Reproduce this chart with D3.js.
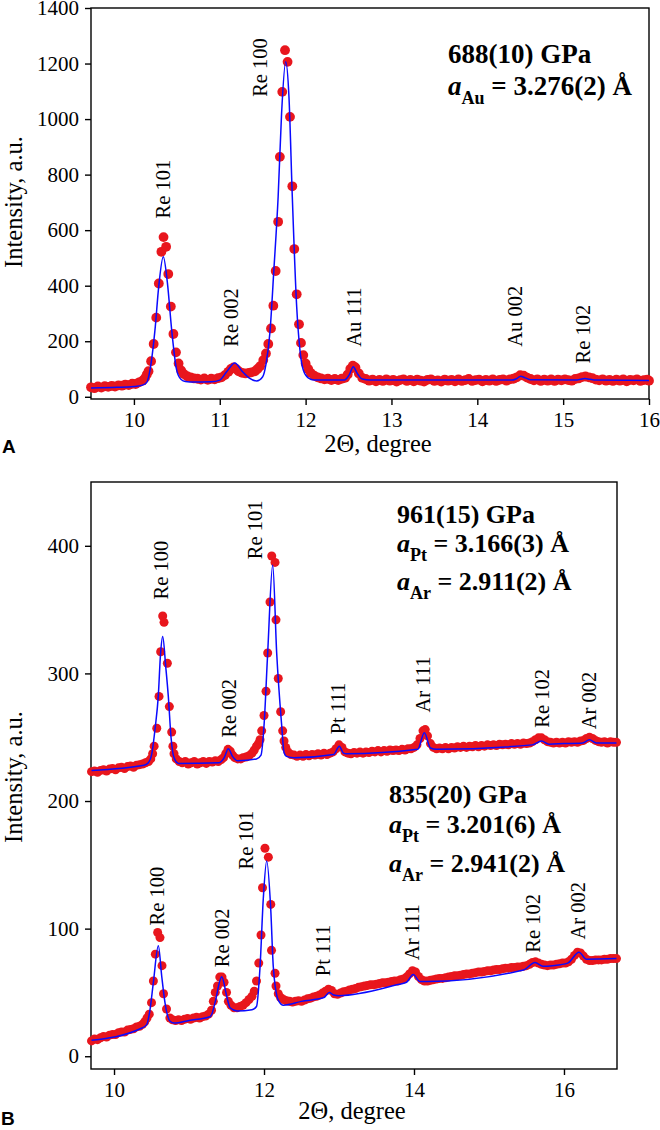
<!DOCTYPE html>
<html><head><meta charset="utf-8">
<script src="https://cdn.jsdelivr.net/npm/d3@7"></script>
<style>body{margin:0;background:#fff}</style>
</head><body>
<svg id="c" width="660" height="1130"></svg>
<script>
// ---------- Panel A : 688(10) GPa ----------
const obsA = [[9.50,34],[9.54,31],[9.58,37],[9.62,33],[9.66,38],[9.70,36],[9.74,39],[9.78,37],[9.82,41],[9.86,40],[9.90,44],[9.94,42],[9.98,47],[10.02,46],[10.06,52],[10.10,58],[10.13,68],[10.15,80],
[10.17,92],[10.20,128],[10.23,190],[10.26,285],[10.29,408],[10.32,522],[10.345,575],[10.375,540],[10.40,442],[10.43,325],[10.46,226],[10.49,160],[10.52,120],[10.55,95],[10.58,82],[10.62,74],[10.66,70],[10.70,66],[10.74,65],[10.78,62],[10.82,66],[10.86,61],[10.90,65],[10.94,63],[10.98,67],[11.02,70],[11.06,78],[11.10,90],[11.13,100],[11.16,106],[11.19,100],[11.22,92],[11.26,86],[11.30,84],[11.34,86],[11.37,88],[11.41,92],[11.44,100],[11.47,110],[11.507,132],[11.538,156],[11.565,190],[11.597,246],[11.624,328],[11.651,453],[11.68,630],[11.70,864],[11.728,1098],[11.76,1248],[11.79,1206],[11.818,1008],[11.845,758],[11.868,532],[11.896,369],[11.923,261],[11.946,194],[11.973,150],[12.00,120],[12.03,100],[12.06,86],[12.10,76],[12.14,70],[12.18,66],[12.22,63],[12.26,65],[12.30,60],[12.34,64],[12.38,60],[12.42,65],[12.46,68],[12.49,80],[12.52,100],[12.55,112],[12.58,106],[12.62,84],[12.66,68],
[12.70,64],[12.74,58],[12.78,62],[12.82,56],[12.86,61],[12.90,57],[12.94,63],[12.98,58],[13.02,61],[13.06,55],[13.10,60],[13.14,63],[13.18,57],[13.22,61],[13.26,56],[13.30,62],[13.34,58],[13.38,55],[13.42,61],[13.46,63],[13.50,57],[13.54,59],[13.58,55],[13.62,62],[13.66,58],[13.70,61],[13.74,56],[13.78,63],[13.82,57],[13.86,60],[13.90,64],[13.94,57],[13.98,60],[14.02,62],[14.06,56],[14.10,61],[14.14,58],[14.18,63],[14.22,57],[14.26,61],[14.30,63],[14.34,58],[14.38,63],[14.42,65],[14.46,70],[14.50,78],[14.54,76],[14.58,69],[14.62,64],[14.66,59],[14.70,63],[14.74,57],[14.78,62],[14.82,58],[14.86,63],[14.90,57],[14.94,62],[14.98,59],[15.02,63],[15.06,60],[15.10,58],[15.14,64],[15.18,66],[15.22,71],[15.26,73],[15.30,70],[15.34,67],[15.38,62],[15.42,59],[15.46,63],[15.50,58],[15.54,61],[15.58,57],[15.62,62],[15.66,58],[15.70,63],[15.74,56],[15.78,61],[15.82,59],[15.86,63],[15.90,57],[15.94,60],[15.98,62],[16.00,58]];
const fitA = [[9.50,32],[9.80,34],[10.00,37],[10.10,42],[10.15,52],[10.187,96],[10.245,240],[10.29,400],[10.342,504],[10.39,410],[10.44,240],[10.498,96],[10.55,62],[10.60,55],[10.70,53],[10.90,54],[11.00,60],[11.08,90],[11.175,122],[11.26,92],[11.34,68],[11.43,57],[11.50,72],[11.54,120],[11.585,234],[11.63,456],[11.68,720],[11.72,1020],[11.768,1206],[11.806,1080],[11.845,720],[11.896,324],[11.934,168],[11.973,96],[12.03,68],[12.10,60],[12.45,60],[12.51,80],[12.555,108],[12.60,85],[12.66,64],[12.75,60],[14.40,60],[14.45,64],[14.505,74],[14.56,68],[14.62,61],[15.15,60],[15.20,63],[15.254,66],[15.31,63],[15.38,60],[16.00,59]];
const peaksA = [["Re 101",10.342,642],["Re 100",11.469,1080],["Re 002",11.131,180],["Au 111",12.567,180],["Au 002",14.442,180],["Re 102",15.225,120]];
const ticksAx = [10,11,12,13,14,15,16];
const ticksAy = [0,200,400,600,800,1000,1200,1400];

// ---------- Panel B : 961(15) GPa (upper) and 835(20) GPa (lower) ----------
const obsB1 = [[9.70,223],[9.74,223.5],[9.78,222.5],[9.82,224],[9.86,224.5],[9.90,223.5],[9.94,225],[9.98,225.5],[10.02,224.5],[10.06,226],[10.10,226.5],[10.14,225.5],[10.18,227],[10.22,227.5],[10.26,226.5],[10.30,228],[10.34,228.5],[10.38,229],[10.42,230],[10.46,231],[10.49,233],[10.515,237],[10.535,243],[10.57,257],[10.60,282],[10.622,317],[10.649,345],[10.667,340],[10.711,308],[10.738,274],[10.769,254],[10.785,243],[10.80,237],[10.83,233],[10.87,231],[10.91,230],[10.95,231],[10.99,229],[11.03,230],[11.07,231],[11.11,229],[11.15,230],[11.19,231],[11.23,229.5],[11.27,231],[11.31,230.5],[11.35,231.5],[11.39,231],[11.43,232.5],[11.46,234],[11.49,237],[11.52,240.5],[11.55,239],[11.58,236],[11.61,234],[11.65,233],[11.69,233],[11.72,234],[11.76,234.5],[11.80,235.5],[11.84,237.5],[11.87,240],[11.90,243],[11.925,245],[11.947,248],[11.969,255],[12.00,267],[12.027,286],[12.049,316],[12.08,356],[12.103,392],[12.147,387],[12.16,342],[12.19,296],[12.222,270],[12.249,255],[12.267,247],[12.29,242],[12.32,238.5],[12.36,236.5],[12.40,236],[12.44,235],[12.48,236],[12.52,235],[12.56,236.5],[12.60,235.5],[12.64,236.5],[12.68,236],[12.72,237],[12.76,236],[12.80,237.5],[12.84,236.5],[12.88,237.5],[12.92,238.5],[12.96,241],[13.00,244],[13.04,242],[13.08,238.5],[13.12,237.5],[13.16,237],[13.20,238],[13.24,237.5],[13.28,238.5],[13.32,237.5],[13.36,238.5],[13.40,238],[13.44,239],[13.48,238.5],[13.52,239.5],[13.56,238.5],[13.60,239.5],[13.64,239],[13.68,240],[13.72,239.5],[13.76,240],[13.80,239.5],[13.84,240.5],[13.88,240],[13.92,241],[13.96,241],[14.00,242],[14.04,244],[14.08,249],[14.12,255],[14.15,256],[14.18,251],[14.22,245],[14.26,242],[14.30,241],[14.34,241.5],[14.38,241],[14.42,242],[14.46,241],[14.50,242],[14.54,241.5],[14.58,242.5],[14.62,242],[14.66,243],[14.70,242],[14.74,243],[14.78,242.5],[14.82,243.5],[14.86,242.5],[14.90,243.5],[14.94,243],[14.98,244],[15.02,243.5],[15.06,244],[15.10,243.5],[15.14,244.5],[15.18,244],[15.22,244.5],[15.26,244],[15.30,245],[15.34,244.5],[15.38,245],[15.42,244.5],[15.46,245.5],[15.50,245],[15.54,245.5],[15.58,246.5],[15.62,248],[15.66,249.5],[15.70,249.5],[15.74,248],[15.78,246.5],[15.82,246],[15.86,245.5],[15.90,246],[15.94,245.5],[15.98,246],[16.02,245.5],[16.06,246.5],[16.10,246],[16.14,246.5],[16.18,246],[16.22,247],[16.26,247.5],[16.30,249],[16.34,250],[16.38,249],[16.42,247.5],[16.46,246.5],[16.50,246],[16.54,246.5],[16.58,245.5],[16.62,246.5],[16.66,246],[16.70,246]];
const fitB1 = [[9.70,224],[10.40,228],[10.45,229.5],[10.50,236],[10.55,258],[10.59,282],[10.62,315],[10.649,329],[10.69,305],[10.724,282],[10.76,250],[10.80,234],[10.86,229.5],[11.40,230],[11.47,234],[11.524,241],[11.58,235],[11.65,231.5],[11.90,233],[11.96,236],[12.00,259],[12.049,316],[12.116,385],[12.169,316],[12.236,259],[12.267,238],[12.30,235],[12.40,234],[12.93,236.5],[13.004,243],[13.06,237.5],[13.10,237],[14.05,240.5],[14.138,253.5],[14.22,241.5],[14.30,240.5],[15.58,244],[15.70,247],[15.80,244.5],[16.00,245],[16.25,245.5],[16.34,248],[16.43,245.5],[16.70,245.5]];
const obsB2 = [[9.70,12],[9.74,13.5],[9.78,13],[9.82,14.5],[9.86,15.5],[9.90,15],[9.94,16.5],[9.98,17],[10.02,17],[10.06,18.5],[10.10,19],[10.14,19],[10.18,20.5],[10.22,21],[10.26,21.5],[10.30,23],[10.34,23.5],[10.38,25],[10.41,27],[10.44,30],[10.47,33],[10.50,42],[10.525,59],[10.551,80],[10.582,97],[10.613,93],[10.64,71],[10.66,49],[10.70,37],[10.745,30],[10.78,28.5],[10.82,28],[10.86,28.5],[10.90,28],[10.94,29],[10.98,29.5],[11.02,29],[11.06,30],[11.10,30.5],[11.14,30],[11.18,31],[11.22,31.5],[11.26,33],[11.30,36],[11.324,43],[11.35,50],[11.38,55],[11.41,62],[11.44,62],[11.467,58],[11.50,50],[11.525,43],[11.56,40],[11.60,38],[11.64,38],[11.68,39],[11.72,40],[11.76,42],[11.80,44.5],[11.84,47],[11.87,51],[11.90,59],[11.93,73],[11.96,95],[11.98,132],[12.013,163],[12.058,156],[12.09,119],[12.10,83],[12.147,65],[12.16,55],[12.19,49],[12.22,46],[12.26,44.5],[12.30,43.5],[12.34,43],[12.38,42.5],[12.42,43],[12.46,43.5],[12.50,43],[12.54,44],[12.58,45],[12.62,45.5],[12.66,46.5],[12.70,47],[12.74,48],[12.78,49.5],[12.82,51],[12.86,52.5],[12.90,51.5],[12.94,49],[12.98,48.5],[13.02,49.5],[13.06,50.5],[13.10,51],[13.14,52],[13.18,52.5],[13.22,53],[13.26,54],[13.30,54.5],[13.34,55],[13.38,55.5],[13.42,56],[13.46,56],[13.50,56.5],[13.54,57],[13.58,57.5],[13.62,57.5],[13.66,58],[13.70,58.5],[13.74,59],[13.78,59],[13.82,60],[13.86,60.5],[13.90,62],[13.94,64.5],[13.98,67],[14.02,66],[14.06,62.5],[14.10,60],[14.14,59],[14.18,59],[14.22,59.5],[14.26,60],[14.30,60.5],[14.34,61],[14.38,61],[14.42,61.5],[14.46,62],[14.50,62.5],[14.54,63],[14.58,63],[14.62,63.5],[14.66,64],[14.70,64.5],[14.74,64.5],[14.78,65],[14.82,65.5],[14.86,66],[14.90,66],[14.94,66.5],[14.98,67],[15.02,67],[15.06,67.5],[15.10,68],[15.14,68],[15.18,68.5],[15.22,69],[15.26,69],[15.30,69.5],[15.34,69.5],[15.38,70],[15.42,70],[15.46,70.5],[15.50,71],[15.54,72],[15.58,73.5],[15.62,74],[15.66,73],[15.70,72],[15.74,71.5],[15.78,71],[15.82,71.5],[15.86,71.5],[15.90,72],[15.94,72.5],[15.98,73],[16.02,73],[16.06,74],[16.10,76],[16.14,79],[16.18,81.5],[16.22,81],[16.26,78.5],[16.30,76],[16.34,75],[16.38,75],[16.42,75.5],[16.46,75.5],[16.50,75.5],[16.54,76],[16.58,76],[16.62,76.5],[16.66,76.5],[16.70,76.5]];
const fitB2 = [[9.70,12.5],[10.35,21.5],[10.436,24.8],[10.48,36.6],[10.524,57.5],[10.591,86.5],[10.636,62.7],[10.68,41.8],[10.747,27.4],[10.80,26],[11.00,28],[11.28,31],[11.302,32.7],[11.347,42],[11.436,62.3],[11.503,47],[11.547,38],[11.64,35.5],[11.84,36.5],[11.90,39],[11.947,70],[11.99,123],[12.036,153],[12.09,115],[12.124,70],[12.19,44],[12.26,40],[12.50,43],[12.80,46],[12.87,50],[12.93,48],[13.00,47.5],[13.77,56],[13.90,58],[13.99,64],[14.08,58.5],[14.17,58.5],[15.46,67.5],[15.613,73.5],[15.72,70.5],[15.85,71],[16.05,73],[16.20,81.5],[16.30,76],[16.70,76.5]];
const peaksB1 = [["Re 100",10.624,358],["Re 002",11.533,249.7],["Re 101",11.88,389.5],["Pt 111",12.983,252.3],["Ar 111",14.124,269.3],["Re 102",15.70,257.5],["Ar 002",16.329,256.2]];
const peaksB2 = [["Re 100",10.576,102.5],["Re 002",11.436,69.8],["Re 101",11.763,146.4],["Pt 111",12.787,62.7],["Ar 111",13.973,75.3],["Re 102",15.584,81.1],["Ar 002",16.19,91.5]];
const ticksBx = [10,12,14,16];
const ticksBy = [0,100,200,300,400];

// annotation texts: [pressure, [element, lattice parameter]...]
const annA = ["688(10) GPa", [["Au"," = 3.276(2) Å"]]];
const annB1 = ["961(15) GPa", [["Pt"," = 3.166(3) Å"],["Ar"," = 2.911(2) Å"]]];
const annB2 = ["835(20) GPa", [["Pt"," = 3.201(6) Å"],["Ar"," = 2.941(2) Å"]]];

const SERIF = "'Liberation Serif','Times New Roman',Times,serif";
const RED = "#e8161d", BLUE = "#0a0aff";
const svg = d3.select("#c");

function panel(o){
  const x = d3.scaleLinear().domain(o.xd).range([o.L, o.R]);
  const y = d3.scaleLinear().domain(o.yd).range([o.B, o.T]);
  const g = svg.append("g");
  g.append("rect").attr("x",o.L).attr("y",o.T).attr("width",o.R-o.L).attr("height",o.B-o.T)
    .attr("fill","none").attr("stroke","#000").attr("stroke-width",1.4);
  const ax = g.append("g").attr("transform",`translate(0,${o.B})`)
    .call(d3.axisBottom(x).tickValues(o.xt).tickSize(6).tickPadding(7).tickFormat(d3.format("d")));
  const ay = g.append("g").attr("transform",`translate(${o.L},0)`)
    .call(d3.axisLeft(y).tickValues(o.yt).tickSize(6).tickPadding(6).tickFormat(d3.format("d")));
  [ax,ay].forEach(a=>{
    a.attr("font-family",SERIF).attr("font-size",21);
    a.select(".domain").remove();
    a.selectAll("line").attr("stroke","#000").attr("stroke-width",1.4);
    a.selectAll("text").attr("font-family",SERIF).attr("font-size",21).attr("fill","#000");
  });
  g.append("text").attr("x",o.xtX).attr("y",o.xtY).attr("text-anchor","middle")
    .attr("font-family",SERIF).attr("font-size",24.5).text("2Θ, degree");
  g.append("text").attr("transform",`translate(22,${o.ytY}) rotate(-90)`).attr("text-anchor","middle")
    .attr("font-family",SERIF).attr("font-size",24.5).text("Intensity, a.u.");
  g.append("text").attr("x",o.letX).attr("y",o.letY).attr("font-family","'Liberation Sans',Arial,sans-serif")
    .attr("font-weight","bold").attr("font-size",19).text(o.letter);
  const line = d3.line().x(d=>x(d[0])).y(d=>y(d[1])).curve(d3.curveMonotoneX);
  o.series.forEach(s=>{
    g.append("g").selectAll("circle").data(s.obs).join("circle")
      .attr("cx",d=>x(d[0])).attr("cy",d=>y(d[1])).attr("r",o.r).attr("fill",RED);
  });
  o.series.forEach(s=>{
    g.append("path").datum(s.fit).attr("d",line).attr("fill","none").attr("stroke",BLUE).attr("stroke-width",1.5);
  });
  o.series.forEach(s=>{
    g.append("g").selectAll("text").data(s.peaks).join("text")
      .attr("transform",d=>`translate(${x(d[1])},${y(d[2])}) rotate(-90)`)
      .attr("dy","0.35em").attr("font-family",SERIF).attr("font-size",20.5).text(d=>d[0]);
  });
  o.anns.forEach(a=>{
    g.append("text").attr("x",a.x).attr("y",a.y).attr("font-family",SERIF)
      .attr("font-weight","bold").attr("font-size",a.fs).text(a.txt[0]);
    a.txt[1].forEach((p,i)=>{
      const tt = g.append("text").attr("x",a.x).attr("y",a.y+a.gaps[i]).attr("font-family",SERIF)
        .attr("font-weight","bold").attr("font-size",a.fs).style("white-space","pre");
      tt.append("tspan").attr("font-style","italic").text("a");
      tt.append("tspan").attr("font-size",18).attr("dy",9).text(p[0]);
      tt.append("tspan").attr("dy",-9).text(p[1]);
    });
  });
}

panel({xd:[9.5,16], yd:[-8,1400], L:91, R:649, T:8, B:399, xt:ticksAx, yt:ticksAy,
  xtX:378, xtY:452, ytY:202, letter:"A", letX:2, letY:453, r:4.9,
  series:[{obs:obsA, fit:fitA, peaks:peaksA}],
  anns:[{x:448, y:63, fs:27, txt:annA, gaps:[32]}]});

panel({xd:[9.693,16.707], yd:[-10,450], L:91, R:617, T:482, B:1069, xt:ticksBx, yt:ticksBy,
  xtX:352, xtY:1119, ytY:777, letter:"B", letX:1, letY:1125, r:4.5,
  series:[{obs:obsB1, fit:fitB1, peaks:peaksB1},{obs:obsB2, fit:fitB2, peaks:peaksB2}],
  anns:[{x:397, y:523, fs:26, txt:annB1, gaps:[29,67]},{x:389, y:803, fs:26, txt:annB2, gaps:[30,69]}]});
</script>
</body></html>
